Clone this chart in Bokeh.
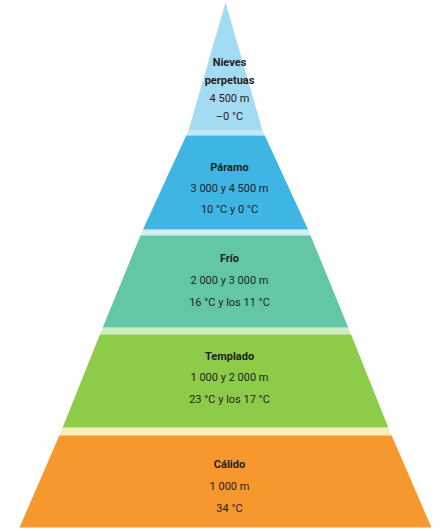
import numpy as np
from bokeh.plotting import figure
from bokeh.models import Range1d, ColumnDataSource
from bokeh.core.properties import value
from bokeh.embed import file_html
from bokeh.resources import INLINE

# ---- data (bottom to top) ----
zones = ["Cálido", "Templado", "Frío", "Páramo", "Nieves perpetuas"]
title_lines = [["Cálido"], ["Templado"], ["Frío"], ["Páramo"], ["Nieves", "perpetuas"]]
altitudes = ["1 000 m", "1 000 y 2 000 m", "2 000 y 3 000 m", "3 000 y 4 500 m", "4 500 m"]
temperatures = ["34 °C", "23 °C y los 17 °C", "16 °C y los 11 °C", "10 °C y 0 °C", "–0 °C"]

# ---- styles / layout ----
band_colors = ["#f7982f", "#8dcb48", "#63c7a6", "#3fb5e3", "#a3dbf3"]
sep_colors = ["#f4efb2", "#cdeebf", "#d2f1ee", "#c3e9f7"]
band_top = [435, 334, 235, 135, 2]
band_bot = [527, 427, 327, 229, 130]
text_mid = [486, 377, 280, 188, 89]
text_step = [22, 21.5, 22, 21, 18]
outline_y = [2, 130, 230, 330, 430, 527]
outline_hw = [0, 37, 83, 124, 164, 206]
cx = 225
font = value("Roboto")
text_color = "#1f1f1f"

def hw(y):
    return float(np.interp(y, outline_y, outline_hw))

p = figure(width=440, height=531, x_range=Range1d(0, 440), y_range=Range1d(531, 0),
           output_backend="svg", toolbar_location=None, min_border=0)
p.axis.visible = False
p.grid.visible = False
p.outline_line_color = None
p.background_fill_color = "white"
p.border_fill_color = "white"

# separators
sx, sy = [], []
for i in range(4):
    y0 = band_bot[i + 1]
    y1 = band_top[i]
    sx.append([cx - hw(y0), cx + hw(y0), cx + hw(y1), cx - hw(y1)])
    sy.append([y0, y0, y1, y1])
p.patches(sx, sy, fill_color=sep_colors, line_color=None)

# bands
bx, by = [], []
for t, b in zip(band_top, band_bot):
    bx.append([cx - hw(t), cx + hw(t), cx + hw(b), cx - hw(b)])
    by.append([t, t, b, b])
p.patches(bx, by, fill_color=band_colors, line_color=None)

# text
tx, ty, tt, tb = [], [], [], []
for i in range(len(zones)):
    lines = title_lines[i] + [altitudes[i], temperatures[i]]
    bold = [True] * len(title_lines[i]) + [False, False]
    step = text_step[i]
    start = text_mid[i] - step * (len(lines) - 1) / 2
    for k, (ln, bd) in enumerate(zip(lines, bold)):
        tx.append(cx + 4)
        ty.append(start + k * step)
        tt.append(ln)
        tb.append(bd)

src_b = ColumnDataSource(dict(x=[x for x, b in zip(tx, tb) if b], y=[y for y, b in zip(ty, tb) if b],
                              t=[t for t, b in zip(tt, tb) if b]))
src_n = ColumnDataSource(dict(x=[x for x, b in zip(tx, tb) if not b], y=[y for y, b in zip(ty, tb) if not b],
                              t=[t for t, b in zip(tt, tb) if not b]))
p.text("x", "y", text="t", source=src_b, text_align="center", text_baseline="middle",
       text_font=font, text_font_size="11px", text_font_style="bold", text_color=text_color)
p.text("x", "y", text="t", source=src_n, text_align="center", text_baseline="middle",
       text_font=font, text_font_size="11px", text_color=text_color)

open("out.html", "w").write(file_html(p, INLINE))
